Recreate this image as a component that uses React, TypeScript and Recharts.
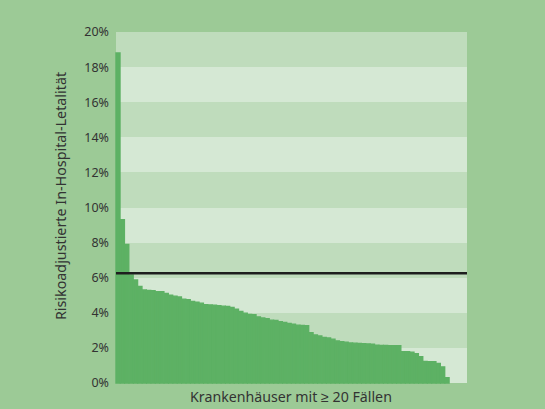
import React from "react";
import { BarChart, Bar, XAxis, YAxis, CartesianGrid, ReferenceLine } from "recharts";

// risk-adjusted in-hospital lethality per hospital (%), sorted descending
const rates = [
  18.8, 9.3, 7.9, 6.15, 5.87, 5.5, 5.3, 5.28, 5.26, 5.2,
  5.2, 5.1, 5.0, 4.95, 4.9, 4.78, 4.75, 4.65, 4.6, 4.55,
  4.46, 4.45, 4.44, 4.4, 4.38, 4.36, 4.3, 4.2, 4.07, 3.98,
  3.9, 3.89, 3.77, 3.7, 3.66, 3.58, 3.56, 3.5, 3.45, 3.4,
  3.35, 3.3, 3.28, 3.26, 2.86, 2.74, 2.68, 2.6, 2.56, 2.5,
  2.4, 2.36, 2.33, 2.28, 2.27, 2.26, 2.24, 2.23, 2.21, 2.15,
  2.14, 2.14, 2.13, 2.13, 2.12, 1.79, 1.78, 1.76, 1.67, 1.5,
  1.23, 1.22, 1.21, 1.12, 0.92, 0.3, 0, 0, 0, 0,
];
const hospitals = rates.map((_, i) => `KH ${i + 1}`);
const yTicks = [0, 2, 4, 6, 8, 10, 12, 14, 16, 18, 20];
const meanRate = 6.26;

const data = hospitals.map((name, i) => ({ name, rate: rates[i] }));

const FONT = "'Noto Sans', sans-serif";
const TEXT = "#333333";
const BAR = "#5db164";

const YLabel = () => (
  <text
    x={60}
    y={196}
    transform="rotate(-90, 60, 196)"
    textAnchor="middle"
    dominantBaseline="central"
    fontSize={14.3}
    fontFamily={FONT}
    fill={TEXT}
  >
    Risikoadjustierte In-Hospital-Letalität
  </text>
);

const XLabel = () => (
  <text
    x={291}
    y={396}
    textAnchor="middle"
    dominantBaseline="central"
    fontSize={14.2}
    fontFamily={FONT}
    fill={TEXT}
  >
    Krankenhäuser mit ≥ 20 Fällen
  </text>
);

export default function App() {
  return (
    <div
      style={{
        position: "absolute",
        left: 0,
        top: 0,
        width: 545,
        height: 409,
        background: "#9cca96",
      }}
    >
      <BarChart
        width={545}
        height={409}
        data={data}
        margin={{ top: 32, right: 78, bottom: 0, left: 0 }}
        barCategoryGap={0}
      >
        <CartesianGrid
          vertical={false}
          stroke="none"
          horizontalFill={["#bfdcbc", "#d5e8d4"]}
          fillOpacity={1}
        />
        <XAxis dataKey="name" height={26} tick={false} axisLine={false} tickLine={false} label={<XLabel />} />
        <YAxis
          width={116}
          domain={[0, 20]}
          ticks={yTicks}
          interval={0}
          axisLine={false}
          tickLine={false}
          tickMargin={1}
          tickFormatter={(v) => `${v}%`}
          tick={{ fontSize: 12.5, fill: TEXT, fontFamily: FONT }}
          label={<YLabel />}
        />
        <Bar dataKey="rate" fill={BAR} stroke={BAR} strokeWidth={1.4} isAnimationActive={false} />
        <ReferenceLine y={meanRate} stroke="#1e1e1e" strokeWidth={2.5} />
      </BarChart>
    </div>
  );
}
